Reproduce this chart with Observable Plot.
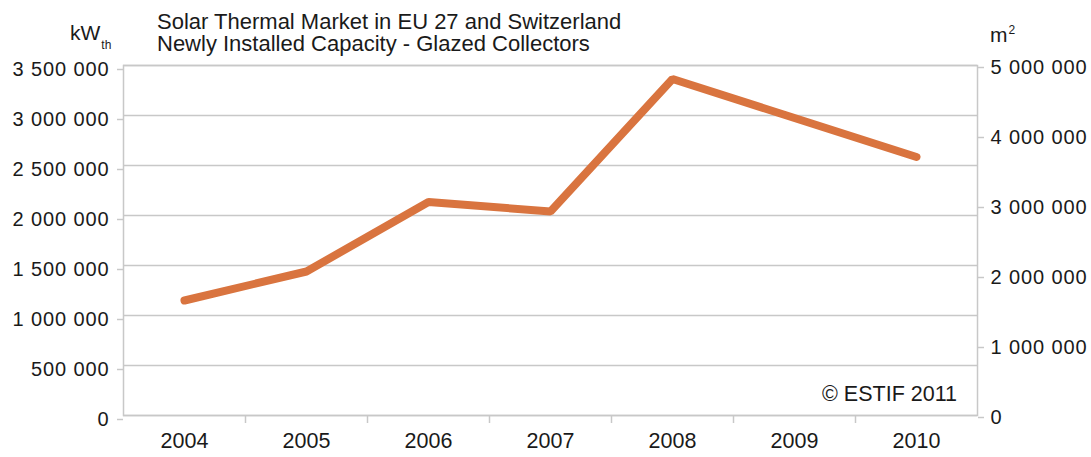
<!DOCTYPE html>
<html>
<head>
<meta charset="utf-8">
<script src="https://cdn.jsdelivr.net/npm/d3@7"></script>
<script src="https://cdn.jsdelivr.net/npm/@observablehq/plot@0.6"></script>
<style>
  html, body { margin: 0; padding: 0; background: #fff; }
  #wrap { position: relative; width: 1091px; height: 457px; font-family: "Liberation Sans", Arial, sans-serif; color: #1a1a1a; }
  #wrap svg { position: absolute; left: 0; top: 0; }
  #wrap svg [aria-label="y-axis tick label"] text { letter-spacing: 0.9px; }
  .t { position: absolute; white-space: nowrap; }
</style>
</head>
<body>
<div id="wrap">
  <div class="t" style="left:157px; top:12px; font-size:22px; line-height:20px;">Solar Thermal Market in EU 27 and Switzerland</div>
  <div class="t" style="left:157px; top:34px; font-size:22px; line-height:20px;">Newly Installed Capacity - Glazed Collectors</div>
  <div class="t" style="left:70px; top:22px; font-size:21px; line-height:21px;">kW<span style="font-size:12px; position:relative; top:9px; left:1px;">th</span></div>
  <div class="t" style="left:990px; top:24px; font-size:21px; line-height:21px;">m<span style="font-size:12px; position:relative; top:-8px; left:1px;">2</span></div>
  <div class="t" style="right:134px; top:384px; font-size:21.5px; line-height:21.5px;">© ESTIF 2011</div>
</div>
<script>
// Data
const years = [2004, 2005, 2006, 2007, 2008, 2009, 2010];
const capacityKWth = [1150000, 1440000, 2135000, 2040000, 3365000, 2975000, 2585000];
const leftTicks = [0, 500000, 1000000, 1500000, 2000000, 2500000, 3000000, 3500000];
const rightTicksM2 = [0, 1000000, 2000000, 3000000, 4000000, 5000000];
const kWthPerM2 = 0.7;

const data = years.map((year, i) => ({year, kw: capacityKWth[i]}));
const boundaries = years.slice(1).map(y => y - 0.5);
const fmt = v => d3.format(",")(v).replace(/,/g, " ");
const gray = "#c8c8c8";
const ink = "#1a1a1a";

const chart = Plot.plot({
  width: 1091,
  height: 457,
  marginLeft: 123,
  marginRight: 114,
  marginTop: 65,
  marginBottom: 42,
  style: {fontFamily: '"Liberation Sans", Arial, sans-serif', background: "transparent", color: ink},
  x: {type: "linear", domain: [years[0] - 0.5, years[years.length - 1] + 0.5]},
  y: {domain: [0, 3500000]},
  marks: [
    Plot.gridY(leftTicks, {stroke: gray, strokeOpacity: 1, strokeWidth: 1.5}),
    Plot.frame({stroke: gray, strokeWidth: 1.5}),
    Plot.axisY(leftTicks, {anchor: "left", tickSize: 6, tickPadding: 8, tickFormat: fmt, fontSize: 20, stroke: gray, strokeWidth: 1.5, fill: ink, dy: 4, label: null}),
    Plot.axisY(rightTicksM2.map(v => v * kWthPerM2), {anchor: "right", tickSize: 6, tickPadding: 7, tickFormat: d => fmt(Math.round(d / kWthPerM2)), fontSize: 20, stroke: gray, strokeWidth: 1.5, fill: ink, dy: 2, label: null}),
    Plot.axisX(boundaries, {anchor: "bottom", tickSize: 8, tickFormat: () => "", stroke: gray, strokeWidth: 1.5, label: null}),
    Plot.axisX(years, {anchor: "bottom", tickSize: 0, tickPadding: 17, tickFormat: d => String(d), fontSize: 21.5, fill: ink, label: null}),
    Plot.line(data, {x: "year", y: "kw", stroke: "#d9743f", strokeWidth: 8, strokeLinecap: "round", strokeLinejoin: "miter"})
  ]
});
document.getElementById("wrap").prepend(chart);
</script>
</body>
</html>
